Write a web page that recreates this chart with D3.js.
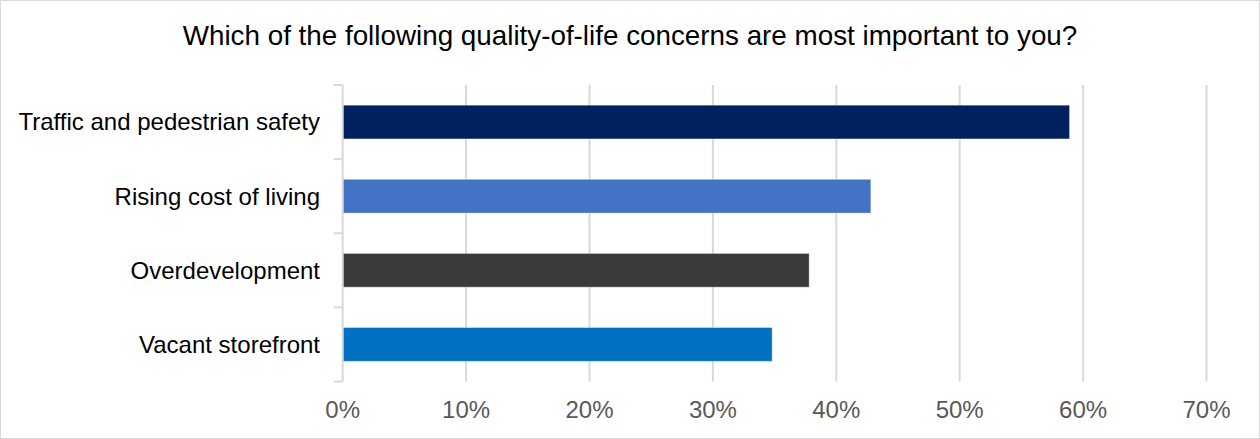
<!DOCTYPE html>
<html><head><meta charset="utf-8">
<script src="https://cdn.jsdelivr.net/npm/d3@7"></script>
<style>html,body{margin:0;padding:0;background:#fff;}svg{display:block;font-family:"Liberation Sans",Arial,sans-serif;}</style>
</head><body>
<svg id="chart" width="1260" height="439"></svg>
<script>
const title = "Which of the following quality-of-life concerns are most important to you?";
const categories = ["Traffic and pedestrian safety", "Rising cost of living", "Overdevelopment", "Vacant storefront"];
const values = [58.9, 42.8, 37.8, 34.8];
const colors = ["#002060", "#4472C4", "#3B3A39", "#0070C0"];
const xTicks = [0, 10, 20, 30, 40, 50, 60, 70];

const svg = d3.select("#chart");
const W = 1260, H = 439;
const m = {left: 342.7, right: 1206.5, top: 85, bottom: 381.5};

svg.append("rect").attr("x",0.5).attr("y",0.5).attr("width",W-1).attr("height",H-1)
  .attr("fill","#fff").attr("stroke","#d9d9d9").attr("stroke-width",1);

svg.append("text").attr("x",630).attr("y",45).attr("text-anchor","middle")
  .attr("font-size",27.8).attr("fill","#000").text(title);

const x = d3.scaleLinear().domain([0,70]).range([m.left, m.right]);
const y = d3.scaleBand().domain(categories).range([m.top, m.bottom]).paddingInner(0.545).paddingOuter(0.2725);

// gridlines
svg.append("g").selectAll("line").data(xTicks.filter(d=>d>0)).join("line")
  .attr("x1",d=>x(d)).attr("x2",d=>x(d)).attr("y1",m.top).attr("y2",m.bottom)
  .attr("stroke","#d9d9d9").attr("stroke-width",2);

// bars
svg.append("g").selectAll("rect").data(categories).join("rect")
  .attr("x",x(0)).attr("y",d=>y(d)).attr("width",(d,i)=>x(values[i])-x(0)).attr("height",y.bandwidth())
  .attr("fill",(d,i)=>colors[i]).attr("stroke","#ffffff").attr("stroke-opacity",0.35).attr("stroke-width",1);

// y axis line & ticks
const step = (m.bottom - m.top)/categories.length;
const yAxisG = svg.append("g");
yAxisG.append("line").attr("x1",m.left).attr("x2",m.left).attr("y1",m.top).attr("y2",m.bottom)
  .attr("stroke","#d9d9d9").attr("stroke-width",2);
yAxisG.selectAll("line.t").data(d3.range(categories.length+1)).join("line").attr("class","t")
  .attr("x1",m.left-9).attr("x2",m.left).attr("y1",i=>m.top+i*step).attr("y2",i=>m.top+i*step)
  .attr("stroke","#d9d9d9").attr("stroke-width",2);

// category labels
svg.append("g").selectAll("text").data(categories).join("text")
  .attr("x",320).attr("y",d=>y(d)+y.bandwidth()/2).attr("dy","0.35em")
  .attr("text-anchor","end").attr("font-size",24).attr("fill","#000").text(d=>d);

// x tick labels
svg.append("g").selectAll("text").data(xTicks).join("text")
  .attr("x",d=>x(d)).attr("y",418).attr("text-anchor","middle")
  .attr("font-size",24).attr("fill","#595959").text(d=>d+"%");
</script>
</body></html>
